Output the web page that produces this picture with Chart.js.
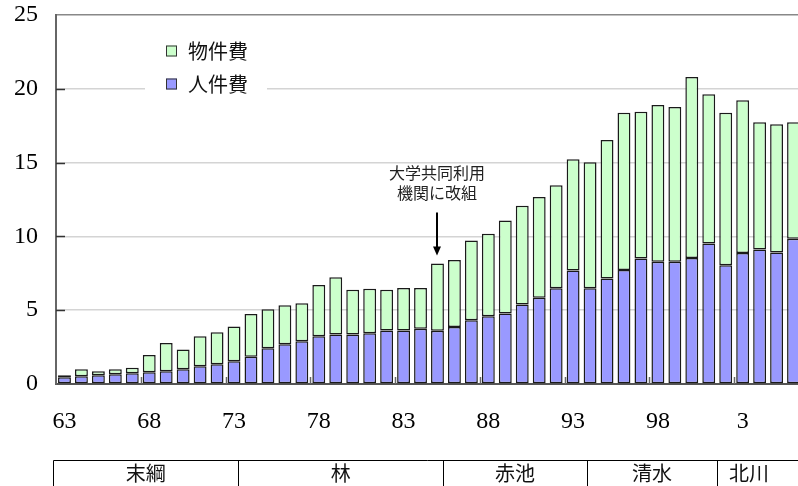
<!DOCTYPE html>
<html>
<head>
<meta charset="utf-8">
<script src="https://cdn.jsdelivr.net/npm/chart.js@4/dist/chart.umd.min.js"></script>
<style>
  html, body { margin: 0; padding: 0; background: #fff; overflow: hidden; }
  canvas { display: block; }
</style>
</head>
<body>
<canvas class="js-chart" width="802" height="486"></canvas>
<script>
const ctx = document.querySelector(".js-chart").getContext("2d");

// fiscal years 1963 .. 2006
const years = [
  "63", "64", "65", "66", "67", "68", "69", "70", "71", "72",
  "73", "74", "75", "76", "77", "78", "79", "80", "81", "82",
  "83", "84", "85", "86", "87", "88", "89", "90", "91", "92",
  "93", "94", "95", "96", "97", "98", "99", "00", "01", "02",
  "03", "04", "05", "06",
];

// 人件費 (personnel)
const personnel = [
  0.45, 0.52, 0.59, 0.66, 0.72, 0.79, 0.86, 1.0, 1.2, 1.34,
  1.54, 1.84, 2.42, 2.69, 2.9, 3.24, 3.35, 3.35, 3.44, 3.62,
  3.62, 3.74, 3.6, 3.87, 4.32, 4.59, 4.78, 5.39, 5.84, 6.49,
  7.69, 6.49, 7.15, 7.73, 8.5, 8.28, 8.28, 8.53, 9.52, 8.05,
  8.87, 9.12, 8.91, 9.84,
];

// 物件費 (materials)
const materials = [
  0.14, 0.48, 0.27, 0.34, 0.38, 1.18, 1.92, 1.33, 2.04, 2.16,
  2.35, 2.91, 2.65, 2.65, 2.57, 3.46, 3.89, 3.03, 3.01, 2.76,
  2.89, 2.76, 4.56, 4.53, 5.41, 5.59, 6.3, 6.68, 6.83, 6.97,
  7.53, 8.53, 9.38, 10.65, 9.95, 10.62, 10.49, 12.27, 10.11, 10.33,
  10.35, 8.61, 8.69, 7.89,
];

const yTicks = [0, 5, 10, 15, 20, 25];

// directors' terms, as fiscal year edges
const directors = ["末綱", "林", "赤池", "清水", "北川"];
const termEdges = [1962.33, 1973.25, 1985.35, 1993.8, 2001.5, 2005.24];

const reorgIndex = years.indexOf("85");
const reorgText = ["大学共同利用", "機関に改組"];

const SERIF = "'Liberation Serif', 'Times New Roman', serif";
const JP = "'Noto Sans CJK JP', sans-serif";

const extras = {
  id: "extras",
  afterDatasetsDraw(chart) {
    const { ctx, chartArea, scales } = chart;
    const x = scales.x;
    const y = scales.y;
    ctx.save();

    // inner tick marks
    ctx.strokeStyle = "#333";
    ctx.lineWidth = 1.5;
    yTicks.slice(1, -1).forEach((t) => {
      const py = Math.round(y.getPixelForValue(t)) + 0.5;
      ctx.beginPath();
      ctx.moveTo(chartArea.left, py);
      ctx.lineTo(chartArea.left + 9, py);
      ctx.stroke();
    });
    ctx.strokeStyle = "#666";
    for (let i = 4.5; i < years.length; i += 5) {
      const px = Math.round(x.getPixelForValue(i)) + 0.5;
      ctx.beginPath();
      ctx.moveTo(px, chartArea.bottom);
      ctx.lineTo(px, chartArea.bottom - 7);
      ctx.stroke();
    }

    // legend
    const lx = chartArea.left + 89;
    ctx.fillStyle = "#fff";
    ctx.fillRect(lx, 34, 122, 64);
    const items = [chart.data.datasets[1], chart.data.datasets[0]];
    items.forEach((ds, i) => {
      const cy = 51 + i * 33;
      ctx.fillStyle = ds.backgroundColor;
      ctx.fillRect(lx + 21, cy - 5.5, 11, 11);
      ctx.strokeStyle = "#333";
      ctx.lineWidth = 1;
      ctx.strokeRect(lx + 21.5, cy - 5, 10, 10);
      ctx.fillStyle = "#111";
      ctx.font = "20px " + JP;
      ctx.textAlign = "left";
      ctx.textBaseline = "middle";
      ctx.fillText(ds.label, lx + 43, cy);
    });

    // annotation with arrow
    const ax = Math.round(x.getPixelForValue(reorgIndex));
    const top = y.getPixelForValue(personnel[reorgIndex] + materials[reorgIndex]);
    ctx.fillStyle = "#222";
    ctx.font = "16px " + JP;
    ctx.textAlign = "center";
    ctx.textBaseline = "middle";
    ctx.fillText(reorgText[0], ax, top - 91);
    ctx.fillText(reorgText[1], ax, top - 71);
    ctx.strokeStyle = "#000";
    ctx.lineWidth = 2;
    ctx.beginPath();
    ctx.moveTo(ax, top - 51);
    ctx.lineTo(ax, top - 14);
    ctx.stroke();
    ctx.fillStyle = "#000";
    ctx.beginPath();
    ctx.moveTo(ax - 4, top - 17);
    ctx.lineTo(ax + 4, top - 17);
    ctx.lineTo(ax, top - 8);
    ctx.closePath();
    ctx.fill();

    // directors table
    const ty = 460.5;
    ctx.strokeStyle = "#000";
    ctx.lineWidth = 1;
    const edgePx = termEdges.map((e) => x.getPixelForValue(e - 1963));
    ctx.beginPath();
    ctx.moveTo(Math.round(edgePx[0]) + 0.5, ty);
    ctx.lineTo(chart.width, ty);
    edgePx.slice(0, -1).forEach((px) => {
      ctx.moveTo(Math.round(px) + 0.5, ty);
      ctx.lineTo(Math.round(px) + 0.5, chart.height);
    });
    ctx.stroke();
    ctx.fillStyle = "#111";
    ctx.font = "20px " + JP;
    directors.forEach((name, i) => {
      ctx.fillText(name, (edgePx[i] + edgePx[i + 1]) / 2, 473);
    });

    ctx.restore();
  },
};

new Chart(ctx, {
  type: "bar",
  data: {
    labels: years,
    datasets: [
      {
        label: "人件費",
        data: personnel,
        backgroundColor: "#9999ff",
        borderColor: "#1a1a1a",
        borderWidth: 1.5,
        borderSkipped: false,
      },
      {
        label: "物件費",
        data: materials,
        backgroundColor: "#ccffcc",
        borderColor: "#1a1a1a",
        borderWidth: 1.5,
        borderSkipped: false,
      },
    ],
  },
  options: {
    responsive: false,
    animation: false,
    layout: { padding: { top: 15, left: 0, right: 0, bottom: 0 } },
    datasets: {
      bar: { categoryPercentage: 1, barPercentage: 0.76 },
    },
    plugins: {
      legend: { display: false },
      tooltip: { enabled: false },
    },
    scales: {
      x: {
        stacked: true,
        offset: true,
        grid: { display: false, drawTicks: false },
        border: { display: true, color: "#555", width: 2 },
        ticks: {
          autoSkip: false,
          maxRotation: 0,
          padding: 23,
          color: "#000",
          font: { family: SERIF, size: 24 },
          callback(value, index) {
            return index % 5 === 0 ? String(Number(years[index])) : "";
          },
        },
        afterFit(scale) {
          scale.height = 102;
          scale.paddingLeft = 0;
          scale.paddingRight = 0;
        },
      },
      y: {
        stacked: true,
        min: 0,
        max: 25,
        afterBuildTicks(scale) {
          scale.ticks = yTicks.map((v) => ({ value: v }));
        },
        grid: {
          drawTicks: false,
          lineWidth: 1.5,
          color(c) {
            return c.tick && c.tick.value === 25 ? "#888" : "#d4d4d4";
          },
        },
        border: { display: true, color: "#666", width: 2 },
        ticks: {
          padding: 18,
          color: "#000",
          font: { family: SERIF, size: 24 },
        },
        afterFit(scale) {
          scale.width = 56;
          scale.paddingTop = 0;
          scale.paddingBottom = 0;
        },
      },
    },
  },
  plugins: [extras],
});
</script>
</body>
</html>
